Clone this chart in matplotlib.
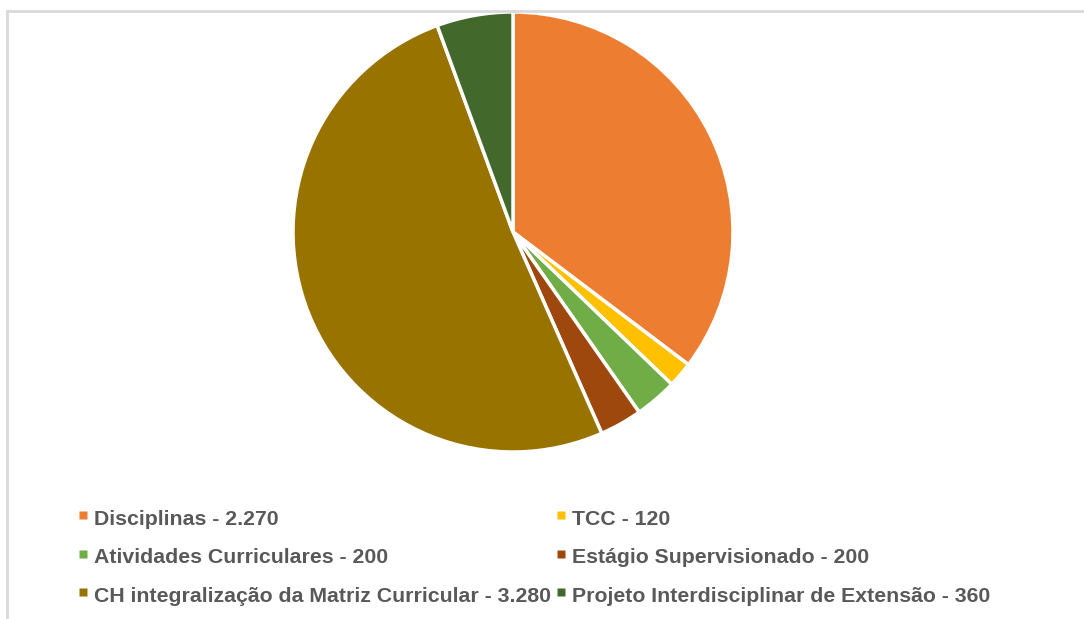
import matplotlib.pyplot as plt
from matplotlib.lines import Line2D

labels = ['Disciplinas - 2.270', 'TCC - 120', 'Atividades Curriculares - 200',
          'Estágio Supervisionado - 200',
          'CH integralização da Matriz Curricular - 3.280',
          'Projeto Interdisciplinar de Extensão - 360']
values = [2270, 120, 200, 200, 3280, 360]
colors = ['#ED7D31', '#FFC000', '#70AD47', '#9E480E', '#997300', '#43682B']

plt.rcParams['font.family'] = ['Liberation Sans', 'DejaVu Sans']

fig = plt.figure(figsize=(10.84, 6.19), dpi=100)

# chart frame (light grey, top and left visible)
fig.add_artist(plt.Line2D([7 / 1084, 1], [1 - 11 / 619, 1 - 11 / 619],
                          transform=fig.transFigure, color='#D9D9D9', lw=2))
fig.add_artist(plt.Line2D([7 / 1084, 7 / 1084], [0, 1 - 11 / 619],
                          transform=fig.transFigure, color='#D9D9D9', lw=2))

r = 220
cx, cy = 513, 232
ax = fig.add_axes([(cx - r) / 1084, 1 - (cy + r) / 619, 2 * r / 1084, 2 * r / 619])
ax.pie(values, colors=colors, startangle=90, counterclock=False,
       wedgeprops=dict(edgecolor='white', linewidth=2.5))
ax.set_xlim(-1.0, 1.0)
ax.set_ylim(-1.0, 1.0)
ax.set_aspect('equal')
ax.axis('off')

order = [0, 2, 4, 1, 3, 5]
handles = [Line2D([], [], marker='s', markersize=5.2, linestyle='none',
                  markerfacecolor=colors[i], markeredgecolor='none') for i in order]
fig.legend(handles, [labels[i] for i in order], ncol=2,
           loc='upper left', bbox_to_anchor=(60 / 1084, 1 - 487 / 619),
           frameon=False, handlelength=0.35, handleheight=1.3,
           handletextpad=0.35, columnspacing=0.31, labelspacing=0.715,
           prop=dict(size=15.3, weight='bold'), labelcolor='#595959')

fig.savefig('out.png', dpi=100)
